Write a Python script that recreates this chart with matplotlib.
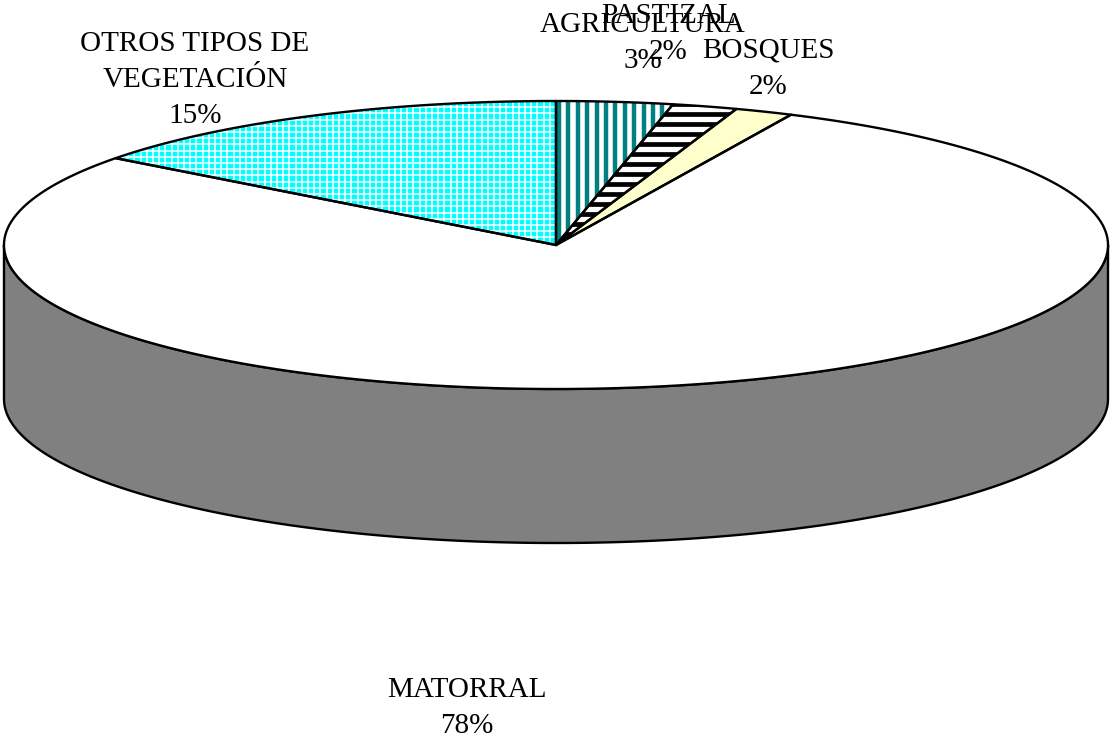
import numpy as np
import matplotlib.pyplot as plt
from matplotlib.patches import Polygon
from matplotlib.collections import LineCollection

# slices, clockwise from 12 o'clock
labels = ['AGRICULTURA', 'PASTIZAL', 'BOSQUES', 'MATORRAL', 'OTROS TIPOS DE\nVEGETACIÓN']
values = [3.4, 1.9, 1.7, 78.3, 14.7]
pct_text = ['3%', '2%', '2%', '78%', '15%']
# label centres (pixels)
label_pos = [(643, 43), (668, 34), (768, 69), (467, 708), (195, 80)]

fig = plt.figure(figsize=(11.11, 7.43), dpi=100)
ax = fig.add_axes([0, 0, 1, 1])
ax.set_xlim(0, 1111)
ax.set_ylim(743, 0)
ax.axis('off')

cx, cy, rx, ry, depth = 556, 245, 552, 144, 154


def ell(t, dy=0):
    r = np.radians(t)
    return cx + rx * np.sin(r), cy - ry * np.cos(r) + dy


# side wall (front half)
t = np.linspace(90, 270, 200)
xs, ys = ell(t)
xb, yb = ell(t[::-1], depth)
side = Polygon(np.column_stack([np.r_[xs, xb], np.r_[ys, yb]]), closed=True,
               facecolor='#808080', edgecolor='black', lw=1.7, zorder=1)
ax.add_patch(side)

# top slices
fracs = np.array(values) / sum(values)
edges = np.r_[0, np.cumsum(fracs)] * 360
faces = ['white', 'white', '#FFFFCC', 'white', '#00FFFF']

for i in range(len(values)):
    tt = np.linspace(edges[i], edges[i + 1], max(3, int((edges[i + 1] - edges[i]) * 2)))
    px, py = ell(tt)
    verts = np.column_stack([np.r_[cx, px], np.r_[cy, py]])
    p = Polygon(verts, closed=True, facecolor=faces[i], edgecolor='none', zorder=2)
    ax.add_patch(p)
    segs = []
    if i == 0:
        for x in np.arange(cx + 3, cx + 200, 9.4):
            segs.append([(x, 80), (x, 260)])
        lc = LineCollection(segs, colors='#008080', lw=3.2, zorder=3)
    elif i == 1:
        for y in np.arange(104, 260, 10):
            segs.append([(540, y), (800, y)])
        lc = LineCollection(segs, colors='black', lw=3.4, zorder=3)
    elif i == 4:
        for x in np.arange(cx, 90, -6.2):
            segs.append([(x, 90), (x, 260)])
        for y in np.arange(101, 260, 6.2):
            segs.append([(90, y), (cx, y)])
        lc = LineCollection(segs, colors='white', lw=1.1, zorder=3)
    else:
        lc = None
    if lc is not None:
        ax.add_collection(lc)
        lc.set_clip_path(p)
    ax.add_patch(Polygon(verts, closed=True, facecolor='none', edgecolor='black',
                         lw=1.7, zorder=4, joinstyle='round'))

for i in range(len(values)):
    ax.text(label_pos[i][0], label_pos[i][1], labels[i] + '\n' + pct_text[i],
            ha='center', va='center', fontsize=21, family='Liberation Serif',
            linespacing=1.5, zorder=5)

fig.savefig('out.png', dpi=100)
